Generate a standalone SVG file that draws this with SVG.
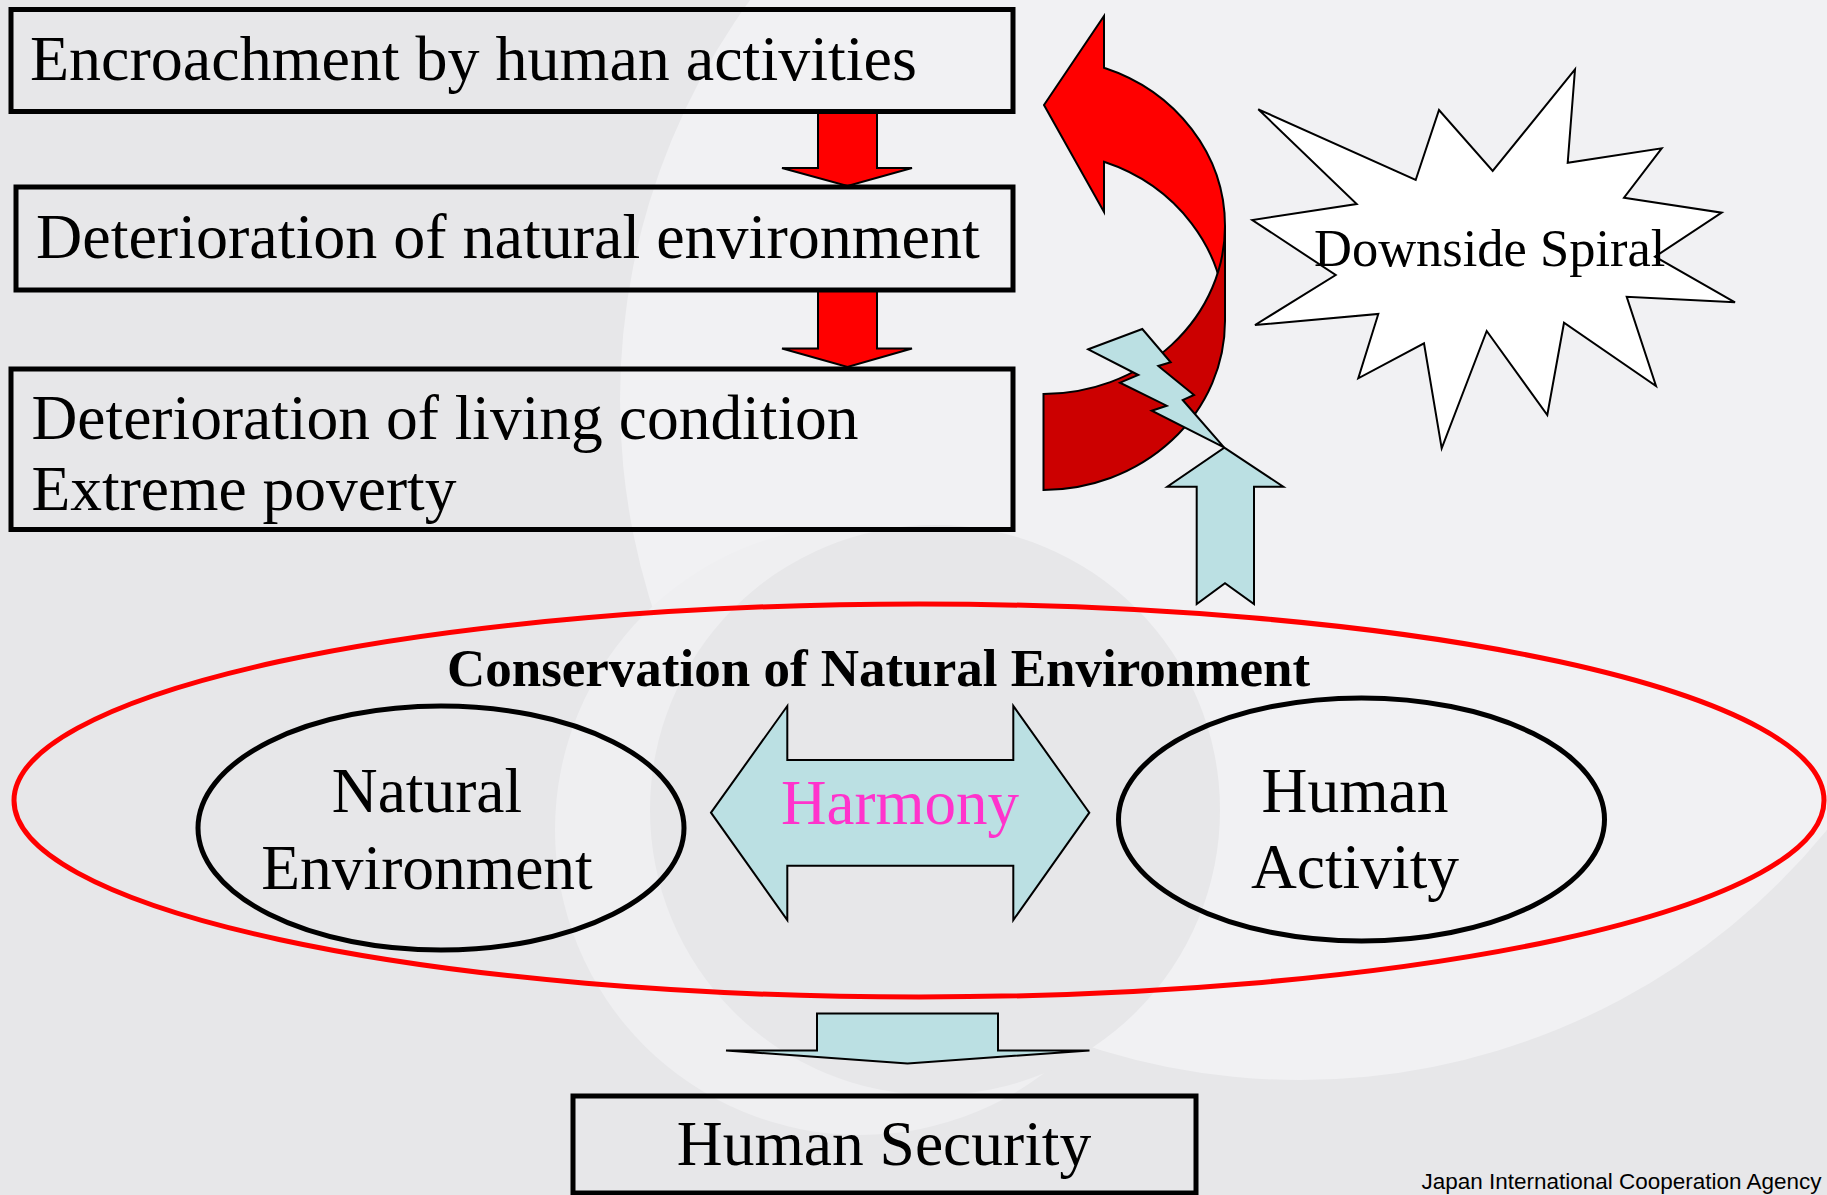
<svg xmlns="http://www.w3.org/2000/svg" width="1827" height="1195" viewBox="0 0 1827 1195">
<style>
.t{font-family:"Liberation Serif","Times New Roman",serif;font-size:63.5px;fill:#000}
.box{fill:none;stroke:#000;stroke-width:5}
.blue{fill:#bbe0e3;stroke:#000;stroke-width:2;stroke-linejoin:miter}
.red{fill:#ff0000;stroke:#000;stroke-width:2}
.dred{fill:#cc0000;stroke:#000;stroke-width:2}
.oval{fill:none;stroke:#000;stroke-width:5}
</style>
<g id="background">
<rect x="0" y="0" width="1827" height="1195" fill="#e7e7e9"/>
<circle cx="1300" cy="400" r="680" fill="#f1f1f3"/>
<circle cx="860" cy="830" r="305" fill="#efeff1"/>
<circle cx="935" cy="810" r="285" fill="#e7e7e9"/>
</g>
<g id="connectors">
<path class="red" d="M818,112 L877,112 L877,168 L912,168 L847.5,186 L782,168 L818,168 Z"/>
<path class="red" d="M818,291 L877,291 L877,348.5 L912,348.5 L847.5,367 L782,348.5 L818,348.5 Z"/>
<g id="curved-arrow">
<path class="red" d="M1104,67.7 A182,168 0 0 1 1225,226 L1225,321 A182,169 0 0 0 1104,161.8 L1104,212 L1044,105 L1104,16 Z"/>
<path class="dred" d="M1043.5,394 A182,168 0 0 0 1225,226 L1225,321 A182,169 0 0 1 1043.5,490 Z"/>
</g>
<path id="bolt" class="blue" d="M1088.3,349.3 L1142.3,329 L1170.7,362.3 L1158.3,366 L1194,395 L1182.7,400 L1224,447.3 L1151.7,410.7 L1166.7,405.7 L1120,382.7 L1138.3,375 Z"/>
<path id="up-arrow" class="blue" d="M1224.3,447.7 L1283.3,486.7 L1254,486.7 L1254,604 L1225,583.3 L1196.7,604 L1196.7,486.7 L1167.3,486.7 Z"/>
<path id="down-arrow" class="blue" d="M817,1013.5 L998,1013.5 L998,1050.5 L1089.5,1050.5 L907.5,1063.5 L726,1050.5 L817,1050.5 Z"/>
</g>
<g id="encroachment">
<rect class="box" x="11" y="9.5" width="1002" height="102"/>
<text class="t" x="30" y="80" style="font-size:64px">Encroachment by human activities</text>
</g>
<g id="deterioration-natural">
<rect class="box" x="16" y="187" width="997" height="103"/>
<text class="t" x="36" y="257.5" style="font-size:64px">Deterioration of natural environment</text>
</g>
<g id="deterioration-living">
<rect class="box" x="11" y="369" width="1002" height="160.5"/>
<text class="t" x="31.5" y="439">Deterioration of living condition</text>
<text class="t" x="31.5" y="509.5">Extreme poverty</text>
</g>
<g id="downside-spiral">
<path d="M1258.3,109.3 L1415.7,180 L1439,110 L1492.7,171 L1575,69.3 L1567.7,162.7 L1661.7,148.3 L1624,197.7 L1721.7,212.7 L1655,256.7 L1735,302.3 L1626.7,296.7 L1656,386 L1564,322.7 L1547.3,415 L1486.7,331 L1441.7,448.3 L1424,343.3 L1358.3,378.3 L1378.3,314 L1255,325 L1335.7,275 L1252.3,220 L1356.7,204 Z" fill="#ffffff" stroke="#000" stroke-width="2"/>
<text class="t" x="1314" y="266" style="font-size:52.5px">Downside Spiral</text>
</g>
<g id="conservation">
<ellipse cx="919" cy="800.5" rx="905" ry="196.5" fill="none" stroke="#ff0000" stroke-width="5"/>
<text class="t" x="878.5" y="686" text-anchor="middle" style="font-size:53px;font-weight:bold">Conservation of Natural Environment</text>
</g>
<g id="natural-environment">
<ellipse class="oval" cx="441" cy="828" rx="243" ry="122"/>
<text class="t" x="427" y="812" text-anchor="middle">Natural</text>
<text class="t" x="427" y="889" text-anchor="middle">Environment</text>
</g>
<g id="harmony">
<path class="blue" d="M711,812.7 L787.3,706 L787.3,760 L1013.3,760 L1013.3,706 L1089.3,812.7 L1013.3,920 L1013.3,865.7 L787.3,865.7 L787.3,920 Z"/>
<text class="t" x="900" y="824.3" text-anchor="middle" style="fill:#ff33cc;font-size:63px">Harmony</text>
</g>
<g id="human-activity">
<ellipse class="oval" cx="1361.5" cy="819.5" rx="243" ry="121.5"/>
<text class="t" x="1355" y="811.5" text-anchor="middle">Human</text>
<text class="t" x="1355" y="888" text-anchor="middle">Activity</text>
</g>
<g id="human-security">
<rect class="box" x="573" y="1096" width="623" height="97"/>
<text class="t" x="884" y="1165" text-anchor="middle">Human Security</text>
</g>
<text x="1421.5" y="1188.5" textLength="400" lengthAdjust="spacingAndGlyphs" style="font-family:'Liberation Sans',Arial,sans-serif;font-size:22px;fill:#000">Japan International Cooperation Agency</text>
</svg>
